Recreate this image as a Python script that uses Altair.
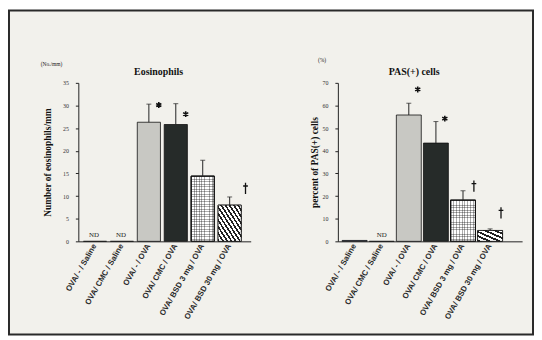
import altair as alt
import pandas as pd

# ---------------- data ----------------
groups = ["OVA/ - / Saline", "OVA/ CMC / Saline", "OVA/ - / OVA",
          "OVA/ CMC / OVA", "OVA/ BSD 3 mg / OVA", "OVA/ BSD 30 mg / OVA"]
bar_fill = ["#5b6b9c", "#ffffff", "#c8c8c3", "#262b29", "#ffffff", "#ffffff"]

eos_mean = [0, 0, 26.3, 25.8, 14.4, 8.0]
eos_err_top = [None, None, 30.3, 30.4, 17.9, 9.8]
eos_star = ["", "", "*", "*", "", ""]
eos_star_y = [None, None, 30.1, 28.1, None, None]
eos_dagger = ["", "", "", "", "", "†"]
eos_dagger_y = [None, None, None, None, None, 11.7]
eos_nd = ["ND", "ND", "", "", "", ""]

pas_mean = [0.4, 0, 55.8, 43.4, 18.2, 4.8]
pas_err_top = [None, None, 61.0, 52.9, 22.3, 5.5]
pas_star = ["", "", "*", "*", "", ""]
pas_star_y = [None, None, 67.1, 54.2, None, None]
pas_dagger = ["", "", "", "", "†", "†"]
pas_dagger_y = [None, None, None, None, 24.4, 12.6]
pas_nd = ["", "ND", "", "", "", ""]

SERIF = "Liberation Serif"
SANS = "Liberation Sans"
DAGGER_PATH = "M0,-1L0,1M-0.42,-0.42L0.42,-0.42"
STAR_PATH = "M0,-1L0,1M-0.87,-0.5L0.87,0.5M-0.87,0.5L0.87,-0.5"


def stripes(n, on, off, x1, y1, x2, y2, frac=0.5):
    stops = []
    for i in range(n):
        a = i / n
        b = (i + frac) / n
        c = (i + 1) / n
        stops += [alt.GradientStop(offset=a, color=on), alt.GradientStop(offset=b, color=on),
                  alt.GradientStop(offset=b, color=off), alt.GradientStop(offset=c, color=off)]
    return alt.LinearGradient(gradient="linear", stops=stops, x1=x1, y1=y1, x2=x2, y2=y2)


def panel(mean, err, star, star_y, dagger, dagger_y, nd, ymax, ystep, ytitle, title,
          unit, width, title_x, unit_xy, hatch_n, dot_n, ytitle_pad, nd_dx, dag_dx,
          star_dx, frame=False, pad_outer=0.27, pad_inner=0.14, align=0.13):
    df = pd.DataFrame({
        "group": groups, "mean": mean, "err": err, "star": star, "star_y": star_y,
        "dagger": dagger, "dagger_y": dagger_y, "nd": nd, "fill": bar_fill,
        "zero": [0] * len(groups),
    })
    xenc = alt.X("group:N", sort=groups, title=None,
                 scale=alt.Scale(paddingInner=pad_inner, paddingOuter=pad_outer, align=align),
                 axis=alt.Axis(labelAngle=300, labelAlign="right", labelBaseline="middle",
                               labelFont=SANS, labelFontSize=8, labelFontWeight="bold",
                               labelColor="#2a2a2a",
                               labelPadding=3, ticks=False, domainColor="#222",
                               domainWidth=1, labelOverlap=False, zindex=1))
    yscale = alt.Scale(domain=[0, ymax], nice=False)
    yaxis = alt.Axis(values=list(range(0, ymax + 1, ystep)), grid=False,
                     tickSize=3, tickColor="#222", domainColor="#222",
                     labelFont=SERIF, labelFontSize=6, labelColor="#333",
                     labelOverlap=False, labelFlush=False,
                     labelPadding=7, titleFont=SERIF, titleFontSize=9.5,
                     titleFontWeight="bold", titleColor="#111",
                     titlePadding=ytitle_pad, zindex=1)

    def Y(field):
        return alt.Y(field, scale=yscale, title=ytitle, axis=yaxis)

    base = alt.Chart(df)
    bars = base.mark_bar(stroke="#111", strokeWidth=0.8).encode(
        x=xenc, y=Y("mean:Q"), fill=alt.Fill("fill:N", scale=None))
    hatch = base.transform_filter(alt.datum.group == groups[5]).mark_bar(
        stroke="#111", strokeWidth=0.8,
        fill=stripes(hatch_n, "#222", "#ffffff", 0, 1, 1, 0, 0.45)).encode(x=xenc, y=Y("mean:Q"))
    dot_h = base.transform_filter(alt.datum.group == groups[4]).mark_bar(
        stroke="#111", strokeWidth=0.8,
        fill=stripes(dot_n[1], "rgba(0,0,0,0.32)", "rgba(0,0,0,0)", 0, 0, 0, 1, 0.35)
    ).encode(x=xenc, y=Y("mean:Q"))
    dot_v = base.transform_filter(alt.datum.group == groups[4]).mark_bar(
        stroke="#111", strokeWidth=0.8,
        fill=stripes(dot_n[0], "rgba(0,0,0,0.32)", "rgba(0,0,0,0)", 0, 0, 1, 0, 0.35)
    ).encode(x=xenc, y=Y("mean:Q"))
    rules = base.transform_filter("isValid(datum.err)").mark_rule(
        color="#222", strokeWidth=1).encode(x=xenc, y=Y("mean:Q"), y2="err:Q")
    caps = base.transform_filter("isValid(datum.err)").mark_tick(
        color="#222", thickness=1, size=5).encode(x=xenc, y=Y("err:Q"))
    stars = base.transform_filter("datum.star != ''").mark_point(
        shape=STAR_PATH, size=36, filled=False, stroke="#111", strokeWidth=1.6,
        opacity=1, xOffset=star_dx).encode(x=xenc, y=Y("star_y:Q"))
    daggers = base.transform_filter("datum.dagger != ''").mark_point(
        shape=DAGGER_PATH, size=130, filled=False, stroke="#111", strokeWidth=1.3,
        opacity=1, xOffset=dag_dx).encode(x=xenc, y=Y("dagger_y:Q"))
    nds = base.transform_filter("datum.nd != ''").mark_text(
        font=SERIF, fontSize=7, dx=nd_dx, dy=-3, baseline="bottom", color="#222").encode(
        x=xenc, y=Y("zero:Q"), text="nd:N")
    ttl = alt.Chart(pd.DataFrame({"t": [title]})).mark_text(
        font=SERIF, fontSize=10, fontWeight="bold", color="#111").encode(
        x=alt.value(title_x), y=alt.value(-11), text="t:N")
    unit_t = alt.Chart(pd.DataFrame({"t": [unit]})).mark_text(
        font=SERIF, fontSize=5.5, color="#222").encode(
        x=alt.value(unit_xy[0]), y=alt.value(unit_xy[1]), text="t:N")
    layers = [bars, hatch, dot_h, dot_v, rules, caps, stars, daggers, nds, ttl, unit_t]
    if frame:
        fr = alt.Chart(pd.DataFrame({"f": [1]})).mark_rect(
            fill="#f2f1ec", stroke="#2a2a2a", strokeWidth=2).encode(
            x=alt.value(-70), x2=alt.value(459), y=alt.value(-73), y2=alt.value(254))
        layers = [fr] + layers
    return alt.layer(*layers).properties(width=width, height=160)


left = panel(eos_mean, eos_err_top, eos_star, eos_star_y, eos_dagger, eos_dagger_y, eos_nd,
             35, 5, "Number of eosinophils/mm", "Eosinophils", "(No./mm)", 174, 81,
             (-27, -19), 11, (9, 26), 10, -1, 16, 10, frame=True, align=0.35)
right = panel(pas_mean, pas_err_top, pas_star, pas_star_y, pas_dagger, pas_dagger_y, pas_nd,
              70, 10, "percent of PAS(+) cells", "PAS(+) cells", "(%)", 186, 77,
              (-16, -23), 5, (9, 17), 3, 0, 11, 9, pad_outer=0.44, pad_inner=0.08, align=0.18)

chart = alt.hconcat(left, right, spacing=88, bounds="flush").properties(
    padding={"left": 0, "top": 0, "right": 0, "bottom": 0},
    background="#ffffff",
).configure_view(strokeWidth=0)

chart.save("out.html", embed_options={"renderer": "svg", "actions": False})
